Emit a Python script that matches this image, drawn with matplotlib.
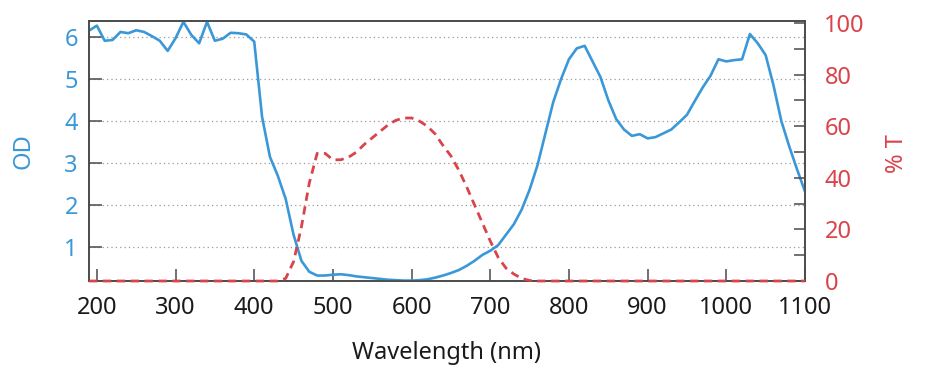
import matplotlib
matplotlib.use("Agg")
import matplotlib.pyplot as plt
import numpy as np

plt.rcParams['font.family'] = ['Noto Sans', 'DejaVu Sans']

# wavelength grid (nm) and optical density
wl_od = [190, 200, 210, 220, 230, 240, 250, 260, 270, 280,
         290, 300, 310, 320, 330, 340, 350, 360, 370, 380,
         390, 400, 410, 420, 430, 440, 450, 460, 470, 480,
         490, 500, 510, 520, 530, 540, 550, 560, 570, 580,
         590, 600, 610, 620, 630, 640, 650, 660, 670, 680,
         690, 700, 710, 720, 730, 740, 750, 760, 770, 780,
         790, 800, 810, 820, 830, 840, 850, 860, 870, 880,
         890, 900, 910, 920, 930, 940, 950, 960, 970, 980,
         990, 1000, 1010, 1020, 1030, 1040, 1050, 1060, 1070, 1080,
         1090, 1100]
od = [6.15, 6.27, 5.91, 5.93, 6.12, 6.09, 6.16, 6.12, 6.02, 5.91,
      5.67, 5.97, 6.36, 6.05, 5.85, 6.36, 5.91, 5.96, 6.10, 6.09,
      6.06, 5.89, 4.10, 3.15, 2.70, 2.15, 1.30, 0.68, 0.42, 0.33,
      0.33, 0.35, 0.36, 0.34, 0.31, 0.29, 0.27, 0.25, 0.23, 0.22,
      0.21, 0.21, 0.22, 0.24, 0.28, 0.33, 0.39, 0.46, 0.56, 0.68,
      0.82, 0.92, 1.05, 1.30, 1.55, 1.90, 2.37, 2.95, 3.70, 4.45,
      5.00, 5.47, 5.73, 5.79, 5.42, 5.05, 4.50, 4.05, 3.80, 3.65,
      3.69, 3.59, 3.62, 3.71, 3.80, 3.97, 4.15, 4.48, 4.80, 5.08,
      5.47, 5.42, 5.45, 5.47, 6.07, 5.85, 5.57, 4.85, 4.00, 3.40,
      2.85, 2.33]

# transmission (%)
wl_t = [190, 250, 300, 350, 400, 430, 440, 450, 460, 470,
        480, 490, 500, 510, 520, 530, 540, 550, 560, 570,
        580, 590, 600, 610, 620, 630, 640, 650, 660, 670,
        680, 690, 700, 710, 720, 730, 740, 750, 760, 800,
        900, 1000, 1100]
trans = [0, 0, 0, 0, 0, 0, 1.0, 7.5, 21, 38,
         49.5, 49.5, 47, 47, 48, 50, 53, 55.5, 58, 60.5,
         62.3, 63.2, 63.2, 62, 60, 57, 52.5, 48.5, 43, 36.5,
         29.5, 22.5, 15.5, 9.2, 5.0, 2.7, 1.0, 0.2, 0, 0,
         0, 0, 0]

x_ticks = [200, 300, 400, 500, 600, 700, 800, 900, 1000, 1100]
od_ticks = [1, 2, 3, 4, 5, 6]
t_ticks = [0, 20, 40, 60, 80, 100]

blue = '#3a98d8'
red = '#d9444a'
dark = '#4a4a4a'

fig = plt.figure(figsize=(9.26, 3.84), dpi=100)
ax = fig.add_axes([0.0961, 0.2682, 0.7732, 0.6771])
ax2 = ax.twinx()

ax.plot(wl_od, od, color=blue, lw=1.9, zorder=3)
ax2.plot(wl_t, trans, color=red, lw=2.0, ls=(0, (3.0, 2.0)), zorder=3,
         clip_on=False)

ax.set_xlim(190, 1100)
ax.set_ylim(0.2, 6.38)
ax2.set_ylim(0, 100.8)

ax.set_xticks(x_ticks)
ax.set_yticks(od_ticks)
ax2.set_yticks(t_ticks)
ax2.set_yticks(np.arange(10, 100, 20), minor=True)

ax.yaxis.grid(True, color='#9a9a9a', ls=(0, (1, 2.5)), lw=0.9)
ax.set_axisbelow(True)

ax.tick_params(axis='x', direction='in', length=9, width=1.1, color=dark,
               labelsize=17, labelcolor='#1a1a1a', pad=11)
ax.tick_params(axis='y', direction='in', length=9, width=1.1, color=dark,
               labelsize=17, labelcolor=blue, pad=8)
ax2.tick_params(axis='y', which='both', direction='in', length=8, width=1.1,
                color=dark, labelsize=17, labelcolor=red, pad=14)

for a in (ax, ax2):
    for s in a.spines.values():
        s.set_color(dark)
        s.set_linewidth(1.2)

ax.set_xlabel('Wavelength (nm)', fontsize=17, color='#1a1a1a', labelpad=15)
fig.text(0.025, 0.607, 'OD', rotation=90, fontsize=17, color=blue,
         ha='center', va='center')
fig.text(0.969, 0.6, '% T', rotation=90, fontsize=17, color=red,
         ha='center', va='center')

fig.savefig('out.png', dpi=100)
